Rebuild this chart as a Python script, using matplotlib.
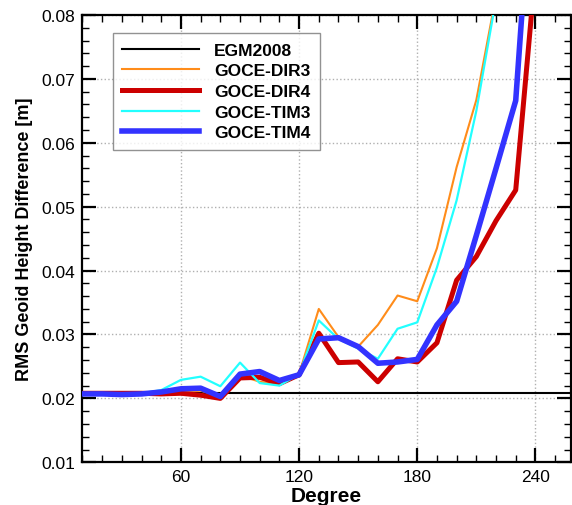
import matplotlib
matplotlib.use("Agg")
import matplotlib.pyplot as plt
from matplotlib.ticker import MultipleLocator

plt.rcParams['font.family'] = ['Liberation Sans', 'DejaVu Sans']

degree = [10, 20, 30, 40, 50, 60, 70, 80, 90, 100, 110, 120, 130, 140, 150,
          160, 170, 180, 190, 200, 210, 220, 230, 240]

egm2008_level = 0.0208

goce_dir3 = [0.0208, 0.0208, 0.0207, 0.0208, 0.0209, 0.0210, 0.0212, 0.0203,
             0.0236, 0.0226, 0.0222, 0.0238, 0.0340, 0.0296, 0.0281, 0.0315,
             0.0361, 0.0352, 0.0435, 0.0562, 0.0667, 0.0830, 0.1000, 0.1200]

goce_dir4 = [0.0208, 0.0208, 0.0208, 0.0208, 0.0207, 0.0208, 0.0205, 0.0200,
             0.0232, 0.0233, 0.0223, 0.0237, 0.0302, 0.0256, 0.0257, 0.0226,
             0.0262, 0.0257, 0.0287, 0.0385, 0.0422, 0.0478, 0.0526, 0.0870]

goce_tim3 = [0.0207, 0.0207, 0.0207, 0.0208, 0.0213, 0.0229, 0.0234, 0.0219,
             0.0256, 0.0224, 0.0220, 0.0238, 0.0322, 0.0293, 0.0278, 0.0262,
             0.0309, 0.0319, 0.0405, 0.0510, 0.0650, 0.0825, 0.1000, 0.1200]

goce_tim4 = [0.0207, 0.0207, 0.0206, 0.0207, 0.0210, 0.0215, 0.0216, 0.0203,
             0.0238, 0.0242, 0.0228, 0.0237, 0.0293, 0.0295, 0.0281, 0.0255,
             0.0257, 0.0261, 0.0315, 0.0352, 0.0455, 0.0560, 0.0666, 0.1100]

yticks = [0.01, 0.02, 0.03, 0.04, 0.05, 0.06, 0.07, 0.08]
ytick_labels = ['0.01', '0.02', '0.03', '0.04', '0.05', '0.06', '0.07', '0.08']

fig = plt.figure(figsize=(5.72, 5.06), dpi=100)
ax = fig.add_axes([0.1442, 0.0844, 0.8538, 0.884])

ax.axhline(egm2008_level, color='black', lw=1.5, label='EGM2008', zorder=2)
ax.plot(degree, goce_dir3, color='#ff8c1a', lw=1.5, label='GOCE-DIR3', zorder=3)
ax.plot(degree, goce_dir4, color='#cc0000', lw=3.6, label='GOCE-DIR4', zorder=4)
ax.plot(degree, goce_tim3, color='#22ffff', lw=1.6, label='GOCE-TIM3', zorder=5)
ax.plot(degree, goce_tim4, color='#3333ff', lw=4.0, label='GOCE-TIM4', zorder=6)

ax.set_xlim(10, 258)
ax.set_ylim(0.01, 0.08)
ax.xaxis.set_major_locator(MultipleLocator(60))
ax.xaxis.set_minor_locator(MultipleLocator(10))
ax.yaxis.set_minor_locator(MultipleLocator(0.002))
ax.set_yticks(yticks)
ax.set_yticklabels(ytick_labels)

ax.tick_params(which='both', direction='in', top=True, right=True, labelsize=12.5, pad=5)
ax.tick_params(which='major', length=10, width=1.6)
ax.tick_params(which='minor', length=5, width=1.0)
for s in ax.spines.values():
    s.set_linewidth(1.6)

ax.grid(True, which='major', color='#b0b0b0', linestyle=':', linewidth=1.0)
ax.set_axisbelow(True)

ax.set_xlabel('Degree', fontsize=15, fontweight='bold', labelpad=1)
ax.set_ylabel('RMS Geoid Height Difference [m]', fontsize=13, fontweight='bold', labelpad=6)

leg = ax.legend(loc='upper left', bbox_to_anchor=(0.062, 0.96), borderaxespad=0,
                prop={'weight': 'bold', 'size': 12.5}, frameon=True, fancybox=False,
                edgecolor='#777777', handlelength=4.4, borderpad=0.55,
                labelspacing=0.32, handletextpad=0.9)
leg.get_frame().set_linewidth(1.0)

fig.savefig('out.png', dpi=100)
